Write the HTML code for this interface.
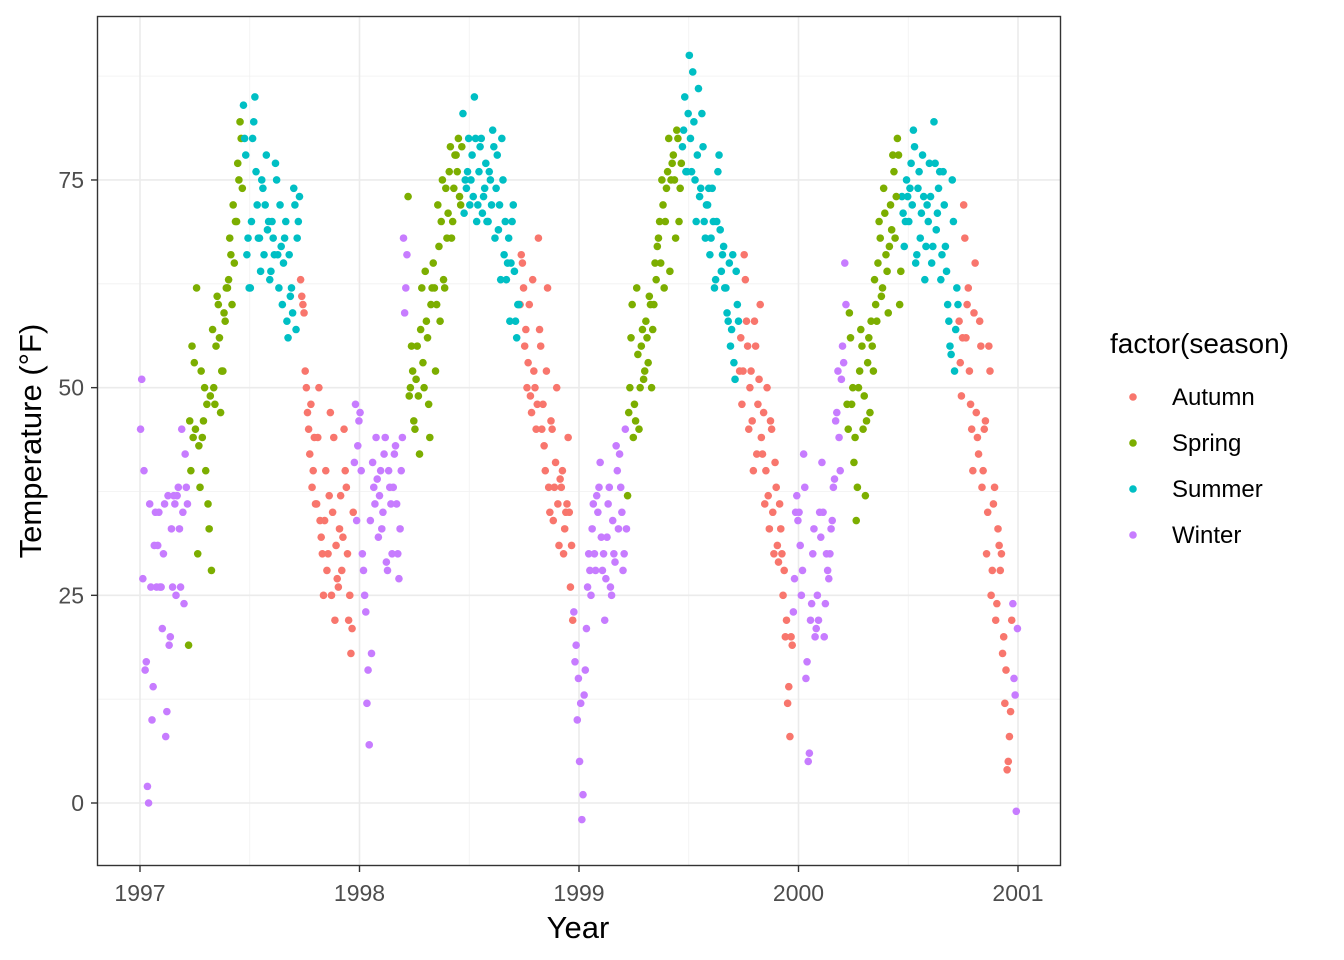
<!DOCTYPE html>
<html><head><meta charset="utf-8"><style>
html,body{margin:0;padding:0;background:#fff;}
svg{display:block;font-family:"Liberation Sans",Arial,sans-serif;}
</style></head><body>
<svg id="chart" width="1344" height="960" viewBox="0 0 1344 960" xmlns="http://www.w3.org/2000/svg">
<rect x="0" y="0" width="1344" height="960" fill="#fff"/>
<g id="grid"></g>
<g id="points"></g>
<rect x="97.5" y="16.5" width="963" height="849" fill="none" stroke="#333" stroke-width="1.4"/>
<g id="axes"></g>
<text x="578" y="938" font-size="31" text-anchor="middle" fill="#000">Year</text>
<text transform="translate(41,441) rotate(-90)" font-size="31" text-anchor="middle" fill="#000">Temperature (°F)</text>
<g>
<text x="1110" y="353" font-size="28" fill="#000">factor(season)</text>
<g id="legend-items"></g>
</g>
</svg>
<script>
const t1997 = [45,27,16,2,36,10,31,26, 35,26,30,8,37,20,26,36, 37,33,45,24,38,19,40,44, 45,30,38,44,50,48,33,28, 50,55,60,47,52,58,62,68, 60,65,70,75,80,84,78,68, 62,80,85,72,68,75,66,78, 70,64,68,77,66,72,60,68, 58,66,62,74,57,70,63,60, 52,47,42,38,44,36,50,32, 25,40,30,47,35,22,27,33, 28,45,38,22,18,35,48,43];
const t1998 = [47,30,25,12,7,18,38,44, 32,40,35,44,28,38,30,42, 36,27,40,68,62,73,50,52, 45,55,42,62,50,58,48,60, 65,52,72,58,75,62,68,76, 68,74,78,80,72,83,75,76, 72,78,85,70,76,80,73,77, 70,75,81,68,78,72,80,66, 63,68,65,72,58,60,60,65, 55,50,60,47,52,45,68,55, 48,40,62,35,45,38,50,31, 38,30,35,44,26,22,17,10];
const t1999 = [5,-2,13,21,30,25,36,28, 35,41,28,22,32,38,25,30, 43,33,38,28,45,37,50,60, 48,62,45,55,51,58,53,60, 57,65,67,70,75,62,74,80, 75,78,68,80,74,79,85,76, 90,76,82,70,86,74,79,68, 72,66,74,62,70,78,64,67, 62,58,55,66,51,60,52,48, 66,58,45,52,40,55,48,60, 42,36,50,33,45,30,38,29, 33,25,20,12,8,19,27,37];
const t2000 = [35,25,42,15,5,22,30,20, 25,35,41,20,30,27,33,38, 46,52,40,55,65,48,59,48, 41,34,50,57,45,37,53,47, 55,63,58,70,61,74,66,59, 72,78,68,80,60,73,67,75, 70,77,81,65,74,68,78,63, 72,77,65,82,69,74,63,76, 67,60,55,75,52,62,58,49, 72,56,62,48,40,65,44,58, 38,45,30,55,25,36,22,33, 28,18,12,4,8,22,15,-1];
const b1997 = [51,40,17,0,26,14,35,31, 26,21,36,11,19,33,37,25, 38,26,35,42,36,46,55,53, 62,43,52,46,40,36,49,57, 48,61,56,52,59,62,63,66, 72,70,77,82,74,80,66,62, 70,82,76,68,64,74,72,69, 63,70,66,75,62,67,65,70, 56,61,59,72,68,73,61,59, 50,45,48,40,36,44,34,30, 34,28,37,25,44,31,26,37, 32,40,30,25,21,41,34,46];
const b1998 = [40,28,23,16,34,41,36,39, 37,33,42,29,40,36,38,43, 30,33,44,59,66,49,55,46, 51,49,57,53,64,56,44,62, 62,60,67,70,63,74,71,79, 70,78,76,73,79,71,74,80, 75,73,80,72,79,71,74,70, 76,72,79,74,69,63,75,70, 65,58,70,64,56,60,66,62, 57,53,49,63,50,48,57,45, 43,52,38,46,34,41,36,39, 40,33,36,35,31,23,19,15];
const b1999 = [12,1,16,26,28,33,30,37, 38,32,30,27,36,26,34,29, 40,42,35,30,33,47,56,44, 46,54,50,57,52,56,61,50, 60,63,68,65,72,70,76,64, 77,75,81,70,77,81,76,83, 80,88,75,78,73,83,70,72, 74,68,70,63,76,69,66,62, 59,65,57,53,64,58,56,52, 63,55,50,46,58,42,51,44, 47,40,37,46,35,41,31,36, 30,28,22,14,20,23,35,34];
const b2000 = [31,28,38,17,6,24,33,21, 22,32,35,24,28,30,34,39, 47,44,51,53,60,45,56,50, 44,38,52,55,49,46,56,58, 52,60,65,68,62,71,64,67, 69,76,73,78,64,71,70,73, 74,72,79,66,76,71,73,67, 70,73,67,77,71,76,66,72, 64,58,54,70,57,60,53,56, 68,60,52,45,59,47,42,55, 40,46,35,52,28,38,24,31, 30,20,16,5,11,24,13,21];
const years = [1997,1998,1999,2000];
const seasons = ["Autumn","Spring","Summer","Winter"];
const seasonColors = ["#F8766D","#7CAE00","#00BFC4","#C77CFF"];
const xTicks = [1997,1998,1999,2000,2001];
const yTicks = [0,25,50,75];
const seriesA = [t1997,t1998,t1999,t2000];
const seriesB = [b1997,b1998,b1999,b2000];

const NS="http://www.w3.org/2000/svg";
function xScale(v){return 140 + (v-1997)*219.5;}
function yScale(v){return 803 - v*8.307;}
function seasonOf(doy){
  if(doy<79||doy>=355) return 3;
  if(doy<172) return 1;
  if(doy<266) return 2;
  return 0;
}
const grid=document.getElementById('grid');
function line(x1,y1,x2,y2,w,c,g,name){
  const l=document.createElementNS(NS,'line');
  l.setAttribute('x1',x1);l.setAttribute('y1',y1);l.setAttribute('x2',x2);l.setAttribute('y2',y2);
  l.setAttribute('stroke',c);l.setAttribute('stroke-width',w);
  
  
  g.appendChild(l);
}
for(let i=0;i<xTicks.length-1;i++){
  const xm=xScale((xTicks[i]+xTicks[i+1])/2);
  line(xm,17,xm,865,0.8,'#f0f0f0',grid,'minor-gridline-x');
}
for(const v of [-12.5,12.5,37.5,62.5,87.5]){
  const y=yScale(v); if(y<17||y>865) continue;
  line(98,y,1060,y,0.8,'#f0f0f0',grid,'minor-gridline-y');
}
for(const v of xTicks) line(xScale(v),17,xScale(v),865,1.6,'#ebebeb',grid,'major-gridline-x');
for(const v of yTicks) line(98,yScale(v),1060,yScale(v),1.6,'#ebebeb',grid,'major-gridline-y');

const pts=document.getElementById('points');
function plotSeries(list, offset){
  list.forEach((arr,yi)=>{
    arr.forEach((t,i)=>{
      const m=Math.floor(i/8), k=i%8;
      const frac=(m+(k+offset)/8)/12;
      const s=seasonOf(frac*365);
      const c=document.createElementNS(NS,'circle');
      c.setAttribute('cx',xScale(years[yi]+frac));
      c.setAttribute('cy',yScale(t));
      c.setAttribute('r',3.8);
      c.setAttribute('fill',seasonColors[s]);
      
      
      pts.appendChild(c);
    });
  });
}
plotSeries(seriesA,0.25);
plotSeries(seriesB,0.75);

const axes=document.getElementById('axes');
for(const v of xTicks){
  line(xScale(v),866,xScale(v),872,1.4,'#333',axes,'x-tick');
  const tx=document.createElementNS(NS,'text');
  tx.setAttribute('x',xScale(v));tx.setAttribute('y',901);
  tx.setAttribute('font-size','23');tx.setAttribute('text-anchor','middle');tx.setAttribute('fill','#4d4d4d');
  tx.textContent=v;
  
  
  axes.appendChild(tx);
}
for(const v of yTicks){
  line(91,yScale(v),97,yScale(v),1.4,'#333',axes,'y-tick');
  const tx=document.createElementNS(NS,'text');
  tx.setAttribute('x',84);tx.setAttribute('y',yScale(v)+8);
  tx.setAttribute('font-size','23');tx.setAttribute('text-anchor','end');tx.setAttribute('fill','#4d4d4d');
  tx.textContent=v;
  
  
  axes.appendChild(tx);
}
const leg=document.getElementById('legend-items');
seasons.forEach((s,i)=>{
  const y=397+i*46;
  const c=document.createElementNS(NS,'circle');
  c.setAttribute('cx',1133);c.setAttribute('cy',y);c.setAttribute('r',3.8);c.setAttribute('fill',seasonColors[i]);
  
  
  leg.appendChild(c);
  const tx=document.createElementNS(NS,'text');
  tx.setAttribute('x',1172);tx.setAttribute('y',y+8);tx.setAttribute('font-size','24');tx.setAttribute('fill','#000');
  tx.textContent=s;
  
  
  leg.appendChild(tx);
});
</script>
</body></html>
